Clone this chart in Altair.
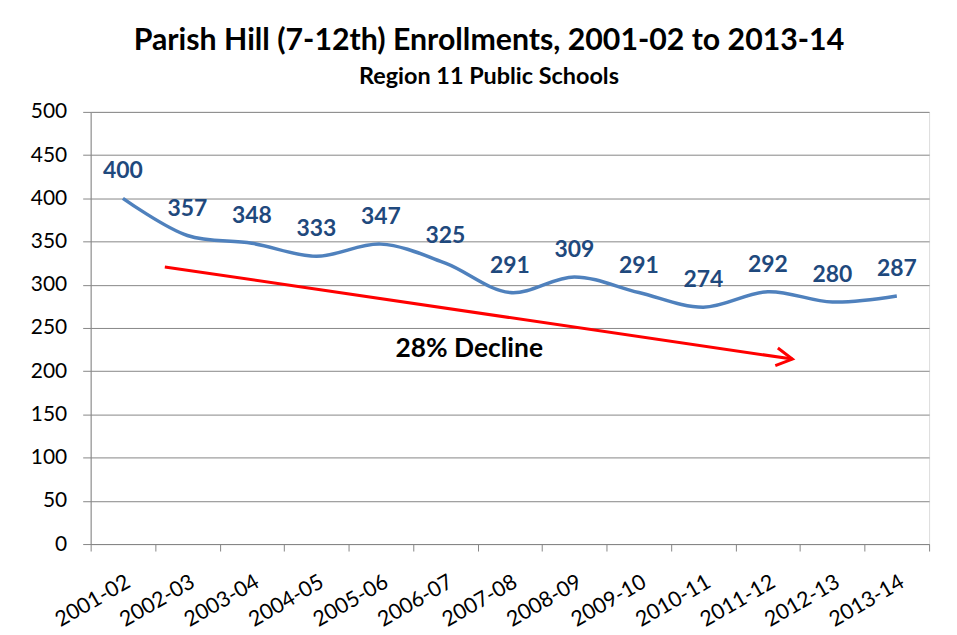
import altair as alt
import pandas as pd

years = ["2001-02", "2002-03", "2003-04", "2004-05", "2005-06", "2006-07", "2007-08",
         "2008-09", "2009-10", "2010-11", "2011-12", "2012-13", "2013-14"]
enroll = [400, 357, 348, 333, 347, 325, 291, 309, 291, 274, 292, 280, 287]

arrow_x = [0.65, 10.38]
arrow_y = [320.6, 214]
note_x = [5.37]
note_y = [225.8]
note_text = ["28% Decline"]

df = pd.DataFrame({"year": years, "v": enroll})
arrow_df = pd.DataFrame({"ax": arrow_x, "ay": arrow_y})
head_df = pd.DataFrame({"ax": arrow_x[1:], "ay": arrow_y[1:]})
note_df = pd.DataFrame({"ax": note_x, "ay": note_y, "t": note_text})

FONT = "Lato"
W, H = 842, 434

yscale = alt.Scale(domain=[0, 500])
xband = alt.X("year:N", sort=years,
              scale=alt.Scale(type="band", paddingInner=0, paddingOuter=0),
              axis=alt.Axis(title=None, labelAngle=-30, labelFontSize=21.5, labelFont=FONT,
                            labelColor="black", labelAlign="right", labelBaseline="top",
                            labelPadding=20, tickBand="extent", tickSize=7,
                            tickColor="#868686", domainColor="#868686", grid=False,
                            labelBound=False, labelOverlap=False))
yenc = alt.Y("v:Q", scale=yscale,
             axis=alt.Axis(title=None, values=list(range(0, 501, 50)), labelFontSize=21,
                           labelFont=FONT, labelColor="black", labelPadding=16, tickSize=8,
                           tickColor="#868686", domainColor="#868686", gridColor="#868686",
                           gridWidth=1))

line = alt.Chart(df).mark_line(interpolate="catmull-rom", color="#4F81BD",
                               strokeWidth=3.5).encode(x=xband, y=yenc)
labels = alt.Chart(df).mark_text(font=FONT, fontSize=23, fontWeight="bold",
                                 color="#1F497D", dy=-27).encode(
    x=alt.X("year:N", sort=years), y=alt.Y("v:Q"), text="v:Q")

xq = alt.X("ax:Q", scale=alt.Scale(domain=[-0.5, 12.5]), axis=None)
yq = alt.Y("ay:Q", scale=yscale)
arrow = alt.Chart(arrow_df).mark_line(color="#FF0000", strokeWidth=3).encode(x=xq, y=yq)
head = alt.Chart(head_df).mark_point(shape="M-1,-0.56L0,0L-1,0.56", size=1024,
                                     filled=False, color="#FF0000", strokeWidth=3,
                                     angle=8.3, opacity=1).encode(x=xq, y=yq)
note = alt.Chart(note_df).mark_text(font=FONT, fontSize=26.5, fontWeight="bold",
                                    color="black").encode(x=xq, y=yq, text="t:N")

chart = alt.layer(
    alt.layer(line, labels),
    alt.layer(arrow, head, note),
).resolve_scale(x="independent").properties(
    width=W, height=H,
    autosize=alt.AutoSizeParams(type="none"),
    padding={"left": 83, "top": 103, "right": 20, "bottom": 88},
    title=alt.TitleParams(
        text="Parish Hill (7-12th) Enrollments, 2001-02 to 2013-14",
        subtitle="Region 11 Public Schools",
        font=FONT, fontSize=30.4, fontWeight="bold", color="black",
        subtitleFont=FONT, subtitleFontSize=23.5, subtitleFontWeight="bold",
        subtitleColor="black", subtitlePadding=8, anchor="middle", dx=-21, offset=13,
    ),
).configure_view(stroke=None).configure(background="white")

chart.save("out.html", embed_options={"renderer": "svg", "actions": False})
